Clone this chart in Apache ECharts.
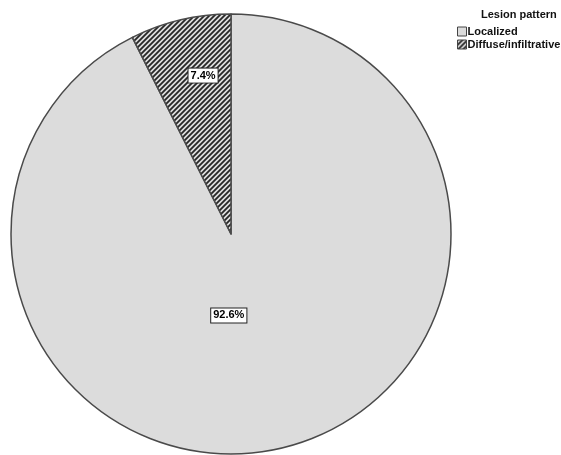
<!DOCTYPE html>
<html>
<head>
<meta charset="utf-8">
<script src="https://cdn.jsdelivr.net/npm/echarts@6/dist/echarts.min.js"></script>
<style>
  html, body { margin: 0; padding: 0; background: #fff; }
  #chart { width: 561px; height: 455px; }
</style>
</head>
<body>
<div id="chart"></div>
<script>
// Lesion pattern shares (percent)
const categories = ['Localized', 'Diffuse/infiltrative'];
const percentValues = [92.6, 7.4];
const legendTitle = 'Lesion pattern';

// Diagonal hatch fill for the second group
function makeHatch() {
  const c = document.createElement('canvas');
  const s = 5;
  c.width = s; c.height = s;
  const ctx = c.getContext('2d');
  ctx.fillStyle = '#dedede';
  ctx.fillRect(0, 0, s, s);
  ctx.strokeStyle = '#262626';
  ctx.lineWidth = 1.8;
  ctx.beginPath();
  ctx.moveTo(-1, s + 1); ctx.lineTo(s + 1, -1);
  ctx.moveTo(-1, 1); ctx.lineTo(1, -1);
  ctx.moveTo(s - 1, s + 1); ctx.lineTo(s + 1, s - 1);
  ctx.stroke();
  return c;
}

const fills = ['#dcdcdc', { image: makeHatch(), repeat: 'repeat' }];

// label offsets from the pie centre, as fractions of the radius
const labelOffsets = [[-0.01, 0.37], [-0.127, -0.72]];

const chart = echarts.init(document.getElementById('chart'), null, { renderer: 'canvas' });

const centre = [231, 234];
const radius = 220;

chart.setOption({
  animation: false,
  backgroundColor: '#ffffff',
  title: {
    text: legendTitle,
    left: 476,
    top: 4,
    textStyle: { fontFamily: 'Liberation Sans', fontWeight: 'bold', fontSize: 11, color: '#111' }
  },
  legend: {
    orient: 'vertical',
    left: 452,
    top: 21,
    itemWidth: 9,
    itemHeight: 9,
    itemGap: 2,
    icon: 'rect',
    data: categories,
    textStyle: { fontFamily: 'Liberation Sans', fontWeight: 'bold', fontSize: 11, color: '#111', padding: [0, 0, 0, -4] },
    itemStyle: { borderColor: '#444', borderWidth: 1 }
  },
  series: [{
    type: 'pie',
    center: centre,
    radius: radius,
    startAngle: 90,
    clockwise: true,
    silent: true,
    itemStyle: { borderColor: '#4a4a4a', borderWidth: 1.5 },
    label: {
      show: true,
      position: 'inside',
      formatter: p => p.value + '%',
      fontFamily: 'Liberation Sans',
      fontWeight: 'bold',
      fontSize: 11,
      color: '#000',
      backgroundColor: '#ffffff',
      borderColor: '#222',
      borderWidth: 1,
      padding: [2, 2, 1, 2]
    },
    labelLine: { show: false },
    labelLayout: function (params) {
      const o = labelOffsets[params.dataIndex];
      return { x: centre[0] + o[0] * radius, y: centre[1] + o[1] * radius, align: 'center', verticalAlign: 'middle' };
    },
    data: categories.map((name, i) => ({
      name: name,
      value: percentValues[i],
      itemStyle: { color: fills[i] }
    }))
  }]
});
</script>
</body>
</html>
